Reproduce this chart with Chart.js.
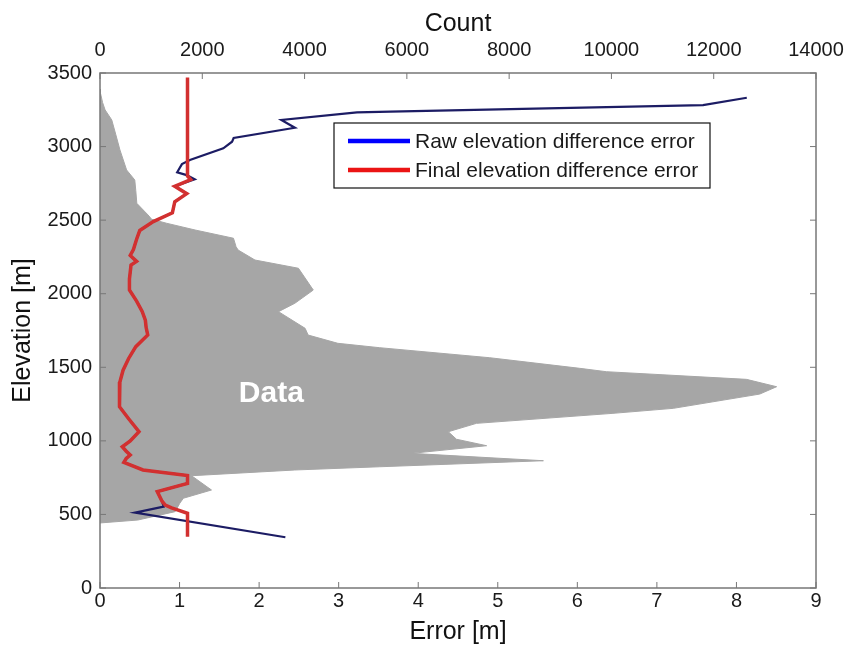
<!DOCTYPE html>
<html>
<head>
<meta charset="utf-8">
<script src="https://cdn.jsdelivr.net/npm/chart.js@4.4.0/dist/chart.umd.min.js"></script>
<style>
  html, body { margin: 0; padding: 0; background: #fff; }
</style>
</head>
<body>
<canvas id="myChart" width="849" height="648"></canvas>
<script>
// elevation histogram (top axis, count)
var countElev = [3390, 3362, 3300, 3249, 3181, 3080, 2977, 2841, 2773, 2700, 2614, 2535, 2506, 2479, 2433, 2377, 2320, 2297, 2229, 2173, 2025, 1935, 1878, 1765, 1719, 1663, 1633, 1565, 1493, 1470, 1418, 1368, 1318, 1221, 1187, 1119, 1062, 1011, 967, 915, 865, 824, 802, 763, 666, 610, 576, 519, 462, 442];
var countVals = [0, 10, 50, 100, 230, 310, 390, 520, 680, 700, 720, 940, 1010, 1300, 1860, 2610, 2660, 2700, 3030, 3880, 4170, 3810, 3490, 4010, 4070, 4650, 5470, 7620, 9380, 9900, 12640, 13230, 12900, 11210, 10030, 7360, 6810, 6970, 7560, 6090, 8670, 5470, 3810, 1790, 2180, 1630, 1560, 1470, 740, 0];

// raw elevation difference error (bottom axis)
var rawElev = [3332, 3282, 3237, 3233, 3181, 3128, 3058, 3033, 2988, 2909, 2881, 2825, 2806, 2778, 2730, 2680, 2625, 2550, 2490, 2430, 2370, 2300, 2260, 2220, 2195, 2100, 2025, 1950, 1880, 1820, 1770, 1720, 1640, 1560, 1480, 1400, 1300, 1232, 1150, 1062, 1000, 960, 930, 904, 880, 854, 802, 765, 711, 655, 590, 553, 512, 345];
var rawErr = [8.13, 7.58, 3.65, 3.23, 2.28, 2.45, 1.68, 1.66, 1.55, 1.13, 1.03, 0.97, 1.09, 1.19, 0.94, 1.09, 0.94, 0.91, 0.67, 0.5, 0.46, 0.42, 0.38, 0.46, 0.39, 0.37, 0.37, 0.46, 0.53, 0.57, 0.58, 0.6, 0.45, 0.36, 0.29, 0.25, 0.24, 0.25, 0.36, 0.49, 0.38, 0.28, 0.33, 0.38, 0.33, 0.3, 0.54, 1.1, 1.1, 0.72, 0.78, 0.8, 0.44, 2.33];

// final elevation difference error (bottom axis)
var finalElev = [3470, 2800, 2775, 2730, 2680, 2625, 2550, 2490, 2430, 2370, 2300, 2260, 2220, 2195, 2100, 2025, 1950, 1880, 1820, 1770, 1720, 1640, 1560, 1480, 1400, 1300, 1232, 1150, 1062, 1000, 960, 930, 904, 880, 854, 802, 765, 711, 655, 590, 564, 545, 508, 349];
var finalErr = [1.1, 1.1, 1.14, 0.94, 1.09, 0.94, 0.91, 0.67, 0.5, 0.46, 0.42, 0.38, 0.46, 0.39, 0.37, 0.37, 0.46, 0.53, 0.57, 0.58, 0.6, 0.45, 0.36, 0.29, 0.25, 0.24, 0.25, 0.36, 0.49, 0.38, 0.28, 0.33, 0.38, 0.33, 0.3, 0.54, 1.1, 1.1, 0.72, 0.78, 0.82, 0.9, 1.1, 1.1];

var seriesLabels = ['Final elevation difference error', 'Raw elevation difference error'];
var legendColors = ['rgb(0,0,255)', 'rgb(235,20,20)'];

var FONT = '"Liberation Sans", Arial, Helvetica, sans-serif';

function pts(xs, ys) {
  return xs.map(function(v, i) { return {x: v, y: ys[i]}; });
}

// plain numbers, no thousands separator
function plain(v) { return String(v); }

// box + inward ticks like matlab
var frameTicks = {
  id: 'frameTicks',
  afterDraw: function(chart) {
    var ctx = chart.ctx, a = chart.chartArea;
    var sx = chart.scales.x, st = chart.scales.xTop, sy = chart.scales.y;
    var len = 6;
    ctx.save();
    ctx.strokeStyle = '#777';
    ctx.lineWidth = 1.5;
    ctx.strokeRect(a.left, a.top, a.right - a.left, a.bottom - a.top);
    ctx.lineWidth = 1;
    ctx.beginPath();
    sx.ticks.forEach(function(t) {
      var p = sx.getPixelForValue(t.value);
      ctx.moveTo(p, a.bottom); ctx.lineTo(p, a.bottom - len);
    });
    st.ticks.forEach(function(t) {
      var p = st.getPixelForValue(t.value);
      ctx.moveTo(p, a.top); ctx.lineTo(p, a.top + len);
    });
    sy.ticks.forEach(function(t) {
      var p = sy.getPixelForValue(t.value);
      ctx.moveTo(a.left, p); ctx.lineTo(a.left + len, p);
      ctx.moveTo(a.right, p); ctx.lineTo(a.right - len, p);
    });
    ctx.stroke();
    ctx.restore();
  }
};

var dataLabel = {
  id: 'dataLabel',
  afterDatasetsDraw: function(chart) {
    var ctx = chart.ctx;
    var px = chart.scales.xTop.getPixelForValue(3350);
    var py = chart.scales.y.getPixelForValue(1320);
    ctx.save();
    ctx.font = 'bold 30px ' + FONT;
    ctx.fillStyle = '#fff';
    ctx.textAlign = 'center';
    ctx.textBaseline = 'middle';
    ctx.fillText('Data', px, py);
    ctx.restore();
  }
};

var boxLegend = {
  id: 'boxLegend',
  afterDraw: function(chart) {
    var ctx = chart.ctx, a = chart.chartArea;
    var x = a.left + 234, y = a.top + 50, w = 376, h = 65;
    var items = [
      {label: chart.data.datasets[1].label, color: legendColors[0]},
      {label: chart.data.datasets[0].label, color: legendColors[1]}
    ];
    ctx.save();
    ctx.fillStyle = '#fff';
    ctx.fillRect(x, y, w, h);
    ctx.strokeStyle = '#111';
    ctx.lineWidth = 1.2;
    ctx.strokeRect(x, y, w, h);
    ctx.font = '21px ' + FONT;
    ctx.textBaseline = 'middle';
    items.forEach(function(it, i) {
      var cy = y + 18 + i * 29;
      ctx.strokeStyle = it.color;
      ctx.lineWidth = 4.5;
      ctx.beginPath();
      ctx.moveTo(x + 14, cy);
      ctx.lineTo(x + 76, cy);
      ctx.stroke();
      ctx.fillStyle = '#1a1a1a';
      ctx.fillText(it.label, x + 81, cy + 1);
    });
    ctx.restore();
  }
};

var config = {
  type: 'line',
  data: {
    datasets: [{
      label: seriesLabels[0],
      data: pts(finalErr, finalElev),
      xAxisID: 'x',
      yAxisID: 'y',
      borderColor: 'rgb(210,48,48)',
      borderWidth: 3.5,
      pointRadius: 0,
      fill: false
    }, {
      label: seriesLabels[1],
      data: pts(rawErr, rawElev),
      xAxisID: 'x',
      yAxisID: 'y',
      borderColor: 'rgb(28,28,100)',
      borderWidth: 2.2,
      pointRadius: 0,
      fill: false
    }, {
      label: 'Count',
      data: pts(countVals, countElev),
      xAxisID: 'xTop',
      yAxisID: 'y',
      borderColor: 'rgb(166,166,166)',
      backgroundColor: 'rgb(166,166,166)',
      borderWidth: 1,
      pointRadius: 0,
      fill: 'origin'
    }]
  },
  options: {
    indexAxis: 'y',
    responsive: false,
    animation: false,
    events: [],
    layout: { padding: { left: 0, right: 33, top: 0, bottom: 0 } },
    plugins: {
      legend: { display: false },
      tooltip: { enabled: false }
    },
    scales: {
      y: {
        type: 'linear',
        position: 'left',
        min: 0,
        max: 3500,
        ticks: { stepSize: 500, padding: 8, color: '#1a1a1a', font: { family: FONT, size: 20 }, callback: plain },
        grid: { display: false, drawTicks: false },
        border: { display: false },
        title: { display: true, text: 'Elevation [m]', color: '#111', font: { family: FONT, size: 25 }, padding: { top: 8, bottom: 0 } },
        afterFit: function(s) { s.width = 100; s.paddingTop = 0; s.paddingBottom = 0; }
      },
      x: {
        type: 'linear',
        position: 'bottom',
        min: 0,
        max: 9,
        ticks: { stepSize: 1, padding: 1, color: '#1a1a1a', font: { family: FONT, size: 20 }, callback: plain },
        grid: { display: false, drawTicks: false },
        border: { display: false },
        title: { display: true, text: 'Error [m]', color: '#111', font: { family: FONT, size: 25 }, padding: { top: 0, bottom: 1 } },
        afterFit: function(s) { s.height = 60; s.paddingLeft = 0; s.paddingRight = 0; }
      },
      xTop: {
        type: 'linear',
        axis: 'x',
        position: 'top',
        min: 0,
        max: 14000,
        ticks: { stepSize: 2000, padding: 11, color: '#1a1a1a', font: { family: FONT, size: 20 }, callback: plain },
        grid: { display: false, drawTicks: false },
        border: { display: false },
        title: { display: true, text: 'Count', color: '#111', font: { family: FONT, size: 25 }, padding: { top: 9, bottom: 0 } },
        afterFit: function(s) { s.height = 73; s.paddingLeft = 0; s.paddingRight = 0; }
      }
    }
  },
  plugins: [dataLabel, frameTicks, boxLegend]
};

window.onload = function() {
  var ctx = document.getElementById('myChart').getContext('2d');
  window.myChart = new Chart(ctx, config);
};
</script>
</body>
</html>
